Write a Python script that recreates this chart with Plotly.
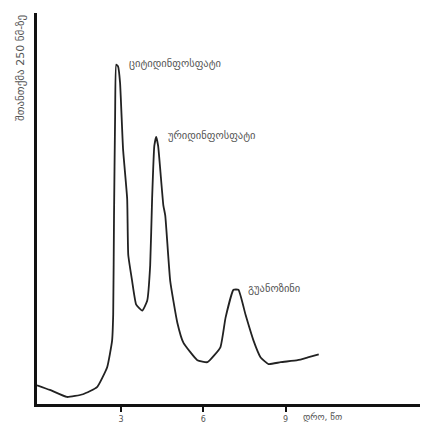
import plotly.graph_objects as go

# დრო (წთ) და შთანთქმა — მნიშვნელობები სურათიდან წაკითხულია დაახლოებით
time_min = [-0.07, 0.40, 1.02, 1.61, 2.12, 2.49, 2.67, 2.71, 2.74, 2.78, 2.82, 2.89,
            2.96, 3.07, 3.22, 3.26, 3.40, 3.55, 3.77, 3.95, 4.06, 4.13, 4.21, 4.28,
            4.35, 4.54, 4.61, 4.79, 5.05, 5.27, 5.78, 6.15, 6.62, 6.81, 7.10, 7.28,
            7.54, 7.83, 8.09, 8.38, 8.82, 9.44, 9.81, 10.21]
absorbance = [4.8, 3.6, 1.8, 2.5, 4.3, 9.4, 16.2, 22.8, 48.2, 73.6, 86.8, 86.3,
              82.2, 65.2, 52.5, 38.1, 31.5, 25.4, 23.9, 26.4, 35.5, 52.5, 66.0, 68.3,
              66.0, 50.8, 48.2, 31.5, 20.8, 15.7, 11.2, 10.7, 14.5, 22.1, 29.2, 29.2,
              22.8, 16.2, 11.9, 10.2, 10.7, 11.2, 11.9, 12.7]

peak_names = ["ციტიდინფოსფატი", "ურიდინფოსფატი", "გუანოზინი"]
peak_x = [2.85, 4.28, 7.2]
peak_y = [86.8, 68.3, 29.2]

tick_vals = [3, 6, 9]
tick_text = ["3", "6", "9"]

font = "DejaVu Sans, sans-serif"

fig = go.Figure()
fig.add_trace(go.Scatter(x=time_min, y=absorbance, mode="lines",
                         line=dict(color="#222222", width=1.8, shape="spline", smoothing=0.4),
                         hoverinfo="skip"))

for name, px, py in zip(peak_names, peak_x, peak_y):
    fig.add_annotation(x=px, y=py, text=name, showarrow=False, xanchor="left",
                       yanchor="middle", xshift=10, yshift=1,
                       font=dict(family=font, size=10.5, color="#555555"))

fig.add_annotation(xref="paper", yref="paper", x=-0.044, y=1.0, text="შთანთქმა 250 ნმ-ზე",
                   textangle=-90, showarrow=False, xanchor="center", yanchor="top",
                   font=dict(family=font, size=11, color="#555555"))
fig.add_annotation(xref="x", yref="paper", x=10.35, y=-0.015, text="დრო, წთ",
                   showarrow=False, xanchor="center", yanchor="top",
                   font=dict(family=font, size=9, color="#555555"))

fig.update_xaxes(range=[-0.07, 14.05], tickvals=tick_vals, ticktext=tick_text,
                 ticks="outside", ticklen=5, tickwidth=2, tickcolor="#111111",
                 showline=True, linewidth=3, linecolor="#111111", showgrid=False,
                 zeroline=False, tickfont=dict(family=font, size=8, color="#555555"))
fig.update_yaxes(range=[0, 100], showticklabels=False, ticks="",
                 showline=True, linewidth=3, linecolor="#111111", showgrid=False,
                 zeroline=False)

# страница добавляет отступ 8px, поэтому фигура чуть меньше окна
fig.update_layout(width=420, height=420, margin=dict(l=29, r=4, t=5, b=13),
                  plot_bgcolor="white", paper_bgcolor="white", showlegend=False)

fig.write_html("out.html")
